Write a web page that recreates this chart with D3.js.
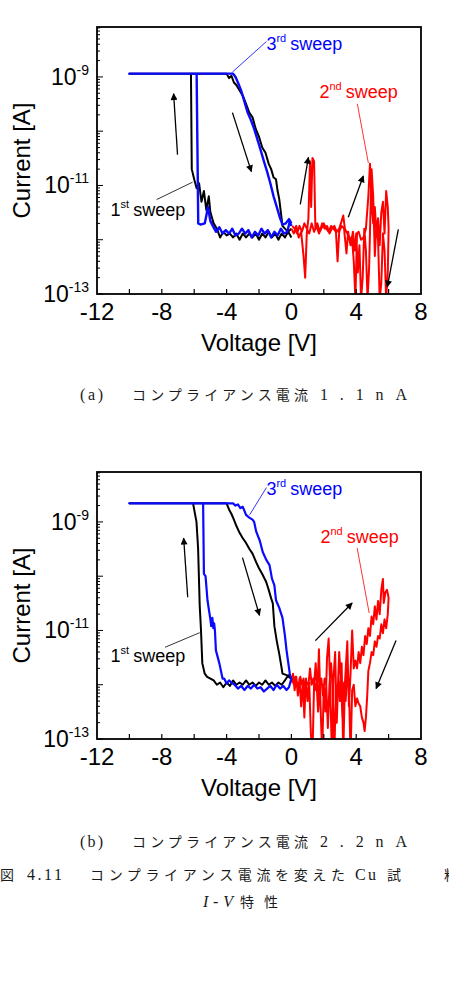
<!DOCTYPE html>
<html>
<head>
<meta charset="utf-8">
<script src="https://cdnjs.cloudflare.com/ajax/libs/d3/7.8.5/d3.min.js"></script>
<style>
  body { margin: 0; background: #fff; }
  svg { display: block; }
</style>
</head>
<body>
<svg id="chart" width="449" height="985"></svg>
<script>
// axis values
var VOLT_LABELS = [-12, -8, -4, 0, 4, 8];
var VOLT_TICKS = [-10, -8, -6, -4, -2, 0, 2, 4, 6];
var CURRENT_LABEL_EXP = [-13, -11, -9];

// (a) compliance 1.1 nA  -- [voltage V, current A]
var sweep1A = [
  [0.0,1.1e-12],[-0.2,1.4e-12],[-0.4,1.1e-12],[-0.6,1.3e-12],[-0.8,1.0e-12],[-1.0,1.3e-12],
  [-1.2,1.1e-12],[-1.4,1.4e-12],[-1.6,1.1e-12],[-1.8,1.3e-12],[-2.0,1.0e-12],[-2.2,1.3e-12],
  [-2.4,1.1e-12],[-2.6,1.3e-12],[-2.8,1.1e-12],[-3.0,1.3e-12],[-3.2,1.0e-12],[-3.4,1.3e-12],
  [-3.6,1.1e-12],[-3.8,1.3e-12],[-4.0,1.2e-12],[-4.2,1.4e-12],[-4.4,1.1e-12],[-4.6,1.6e-12],
  [-4.8,2.0e-12],[-5.0,3.2e-12],[-5.1,6.3e-12],[-5.25,3.5e-12],[-5.4,7.9e-12],[-5.55,5.0e-12],
  [-5.7,1.1e-11],[-5.85,8.9e-12],[-6.0,1.3e-11],[-6.15,2.0e-11],[-6.2,1.15e-9],[-10.0,1.15e-9],
  [-4.0,1.15e-9],[-3.85,9.5e-10],[-3.7,1.05e-9],[-3.55,7.9e-10],[-3.4,7.1e-10],[-3.2,5.6e-10],
  [-3.0,4.5e-10],[-2.8,3.2e-10],[-2.6,2.2e-10],[-2.4,1.8e-10],[-2.2,1.1e-10],[-2.0,7.9e-11],
  [-1.8,5.0e-11],[-1.6,4.0e-11],[-1.4,2.5e-11],[-1.25,2.0e-11],[-1.1,1.4e-11],[-0.95,1.3e-11],
  [-0.85,7.9e-12],[-0.75,5.6e-12],[-0.65,3.2e-12],[-0.55,1.8e-12],[-0.4,1.6e-12],[-0.2,1.4e-12],
  [0.0,1.6e-12]
];
var sweep2A = [
  [0.00,1.6e-12],[0.15,1.3e-12],[0.30,1.8e-12],[0.45,1.1e-12],[0.60,1.4e-12],[0.75,5.0e-13],
  [0.85,2.0e-13],[0.95,1.3e-12],[1.05,2.5e-12],[1.15,2.8e-11],[1.22,4.0e-12],[1.30,3.2e-11],
  [1.40,2.8e-11],[1.48,1.6e-12],[1.60,2.0e-12],[1.75,1.4e-12],[1.90,2.0e-12],[2.05,1.6e-12],
  [2.20,1.8e-12],[2.35,1.3e-12],[2.50,1.6e-12],[2.65,1.8e-12],[2.80,1.4e-12],[2.95,1.6e-12],
  [3.10,2.2e-12],[3.20,2.8e-12],[3.30,1.6e-12],[3.45,1.3e-12],[3.60,1.1e-12],[3.75,1.0e-12],
  [3.85,4.0e-13],[3.95,8.0e-14],[4.05,1.3e-12],[4.15,1.4e-12],[4.30,1.0e-12],[4.45,1.1e-12],
  [4.60,1.6e-12],[4.75,6.3e-12],[4.85,2.5e-11],[4.95,5.0e-12],[5.05,2.0e-12],[5.15,4.0e-12],
  [5.25,1.3e-12],[5.35,2.5e-12],[5.45,7.9e-13],[5.55,3.2e-12],[5.65,5.0e-12],[5.75,1.3e-12],
  [5.85,7.9e-12],[5.95,4.0e-12],[6.00,1.6e-12],
  [5.95,2.5e-13],[5.85,8.0e-14],[5.75,6.3e-13],[5.65,1.3e-12],[5.55,1.6e-13],[5.45,8.0e-14],
  [5.35,1.0e-12],[5.25,2.0e-12],[5.15,5.0e-13],[5.05,6.3e-12],[4.95,2.0e-11],[4.88,3.2e-12],
  [4.80,3.2e-13],[4.70,8.0e-14],[4.60,6.3e-13],[4.50,1.6e-12],[4.40,2.0e-13],[4.30,8.0e-14],
  [4.20,7.9e-13],[4.10,2.5e-13],[4.00,1.3e-12],[3.90,6.3e-13],[3.80,1.4e-12],[3.65,7.9e-13],
  [3.50,1.4e-12],[3.40,5.6e-13],[3.25,1.6e-12],[3.10,1.8e-12],[2.95,1.4e-12],[2.85,4.0e-13],
  [2.75,1.4e-12],[2.60,1.6e-12],[2.45,1.8e-12],[2.30,1.4e-12],[2.15,1.6e-12],[2.00,2.0e-12],
  [1.85,1.6e-12],[1.70,1.3e-12],[1.55,1.8e-12],[1.40,1.4e-12],[1.25,2.0e-12],[1.10,1.3e-12],
  [0.95,1.6e-12],[0.80,2.0e-12],[0.65,1.4e-12],[0.50,1.8e-12],[0.35,1.3e-12],[0.20,1.6e-12],
  [0.05,1.8e-12]
];
var sweep3A = [
  [0.0,1.8e-12],[-0.1,2.2e-12],[-0.25,1.4e-12],[-0.45,1.3e-12],[-0.65,1.6e-12],[-0.85,1.2e-12],
  [-1.05,1.4e-12],[-1.25,1.1e-12],[-1.45,1.5e-12],[-1.65,1.3e-12],[-1.85,1.6e-12],[-2.05,1.2e-12],
  [-2.25,1.4e-12],[-2.45,1.1e-12],[-2.65,1.5e-12],[-2.85,1.3e-12],[-3.05,1.6e-12],[-3.25,1.3e-12],
  [-3.45,1.2e-12],[-3.65,1.6e-12],[-3.85,1.3e-12],[-4.05,1.5e-12],[-4.25,1.3e-12],[-4.45,1.7e-12],
  [-4.65,1.4e-12],[-4.85,1.8e-12],[-5.0,2.2e-12],[-5.15,4.0e-12],[-5.25,2.8e-12],[-5.35,2.0e-12],
  [-5.6,1.9e-12],[-5.75,2.0e-12],[-5.85,1.15e-9],[-10.0,1.15e-9],
  [-3.6,1.15e-9],[-3.45,1.0e-9],[-3.3,7.9e-10],[-3.1,5.6e-10],[-2.9,3.5e-10],[-2.7,2.2e-10],
  [-2.5,1.6e-10],[-2.3,1.1e-10],[-2.1,7.1e-11],[-1.9,4.5e-11],[-1.7,2.8e-11],[-1.5,1.8e-11],
  [-1.3,1.1e-11],[-1.1,6.3e-12],[-0.9,4.0e-12],[-0.7,2.5e-12],[-0.55,1.9e-12],[-0.35,2.0e-12],
  [-0.15,2.4e-12],[0.0,2.0e-12]
];

// (b) compliance 2.2 nA
var sweep1B = [
  [0.0,1.3e-12],[-0.2,1.5e-12],[-0.4,1.2e-12],[-0.6,1.0e-12],[-0.8,1.1e-12],[-1.0,9.5e-13],
  [-1.2,1.1e-12],[-1.4,1.0e-12],[-1.6,1.2e-12],[-1.8,1.0e-12],[-2.0,1.1e-12],[-2.2,9.5e-13],
  [-2.4,1.1e-12],[-2.6,1.0e-12],[-2.8,1.2e-12],[-3.0,1.0e-12],[-3.2,1.1e-12],[-3.4,1.0e-12],
  [-3.6,1.2e-12],[-3.8,9.5e-13],[-4.0,1.1e-12],[-4.2,9.0e-13],[-4.4,1.1e-12],[-4.6,1.0e-12],
  [-4.8,1.2e-12],[-5.0,1.3e-12],[-5.2,1.4e-12],[-5.35,1.6e-12],[-5.5,2.5e-12],[-5.58,1.0e-11],
  [-5.66,2.9e-11],[-5.76,3.3e-10],[-5.86,1.0e-9],[-6.07,2.2e-9],[-10.0,2.2e-9],
  [-4.0,2.2e-9],[-3.85,1.7e-9],[-3.7,1.4e-9],[-3.55,1.1e-9],[-3.4,8.5e-10],[-3.2,6.3e-10],
  [-3.0,5.0e-10],[-2.8,4.1e-10],[-2.6,3.2e-10],[-2.4,2.6e-10],[-2.17,1.8e-10],[-2.0,1.4e-10],
  [-1.8,1.1e-10],[-1.56,7.9e-11],[-1.4,5.6e-11],[-1.25,3.9e-11],[-1.15,3.2e-11],[-1.05,1.2e-11],
  [-0.9,6.3e-12],[-0.75,3.7e-12],[-0.6,2.0e-12],[-0.55,1.6e-12],[-0.3,1.5e-12],[-0.1,1.35e-12],
  [0.0,1.45e-12]
];
var sweep2B = [
  [0.00,1.1e-12],[0.10,1.6e-12],[0.20,7.9e-13],[0.30,1.4e-12],[0.40,6.3e-13],[0.50,1.3e-12],
  [0.60,4.0e-13],[0.70,1.1e-12],[0.80,2.5e-13],[0.90,1.3e-12],[1.00,5.0e-13],[1.10,1.1e-12],
  [1.20,1.3e-13],[1.30,5.0e-14],[1.40,1.0e-12],[1.50,2.5e-12],[1.60,6.3e-13],[1.70,4.5e-12],
  [1.80,4.0e-13],[1.90,5.0e-14],[2.00,1.0e-12],[2.10,3.2e-13],[2.20,3.2e-12],[2.30,7.1e-12],
  [2.40,7.9e-13],[2.50,5.0e-14],[2.60,1.3e-12],[2.70,4.0e-12],[2.80,2.0e-13],[2.90,1.4e-12],
  [3.00,5.0e-13],[3.10,2.5e-12],[3.20,5.0e-14],[3.30,1.0e-12],[3.45,6.3e-12],[3.55,4.0e-13],
  [3.65,1.6e-12],[3.75,1.0e-11],[3.85,2.0e-12],[3.95,2.8e-12],[4.05,2.0e-12],[4.15,4.0e-12],
  [4.25,2.5e-12],[4.35,5.0e-12],[4.45,3.5e-12],[4.55,7.9e-12],[4.65,5.6e-12],[4.75,1.1e-11],
  [4.85,7.9e-12],[4.95,1.8e-11],[5.05,1.3e-11],[5.15,2.8e-11],[5.25,1.6e-11],[5.35,3.5e-11],
  [5.45,2.0e-11],[5.55,5.6e-11],[5.65,8.9e-11],[5.70,3.2e-11],[5.80,5.0e-11],[5.90,5.6e-11],
  [6.00,4.0e-11],
  [5.95,2.0e-11],[5.85,1.1e-11],[5.75,1.6e-11],[5.65,8.9e-12],[5.55,1.3e-11],[5.45,7.1e-12],
  [5.35,7.9e-12],[5.25,5.0e-12],[5.15,6.3e-12],[5.05,3.5e-12],[4.95,4.0e-12],[4.85,2.5e-12],
  [4.75,1.8e-12],[4.68,6.3e-13],[4.60,2.5e-13],[4.52,1.4e-13],[4.45,2.0e-13],[4.35,2.5e-13],
  [4.25,4.0e-13],[4.15,4.5e-13],[4.05,5.6e-13],[3.95,4.0e-13],[3.85,1.0e-12],[3.75,7.9e-13],
  [3.65,5.0e-14],[3.55,1.0e-12],[3.45,2.0e-12],[3.35,5.0e-13],[3.25,1.1e-12],[3.15,2.5e-13],
  [3.05,1.3e-12],[2.95,4.0e-12],[2.85,6.3e-13],[2.75,1.0e-12],[2.65,5.0e-14],[2.55,7.9e-13],
  [2.45,2.5e-12],[2.35,1.0e-12],[2.25,1.6e-13],[2.15,1.0e-12],[2.05,1.3e-12],[1.95,6.3e-13],
  [1.85,1.3e-12],[1.75,1.0e-12],[1.65,3.2e-13],[1.55,1.1e-12],[1.45,7.9e-13],[1.35,1.3e-12],
  [1.25,1.0e-12],[1.15,2.0e-12],[1.05,1.0e-12],[0.95,1.1e-12],[0.85,6.3e-13],[0.75,1.3e-12],
  [0.65,1.0e-12],[0.55,1.4e-12],[0.45,1.0e-12],[0.35,1.1e-12],[0.25,1.4e-12],[0.15,1.0e-12],
  [0.05,1.3e-12]
];
var sweep3B = [
  [0.0,1.3e-12],[-0.15,9.0e-13],[-0.3,8.0e-13],[-0.5,9.5e-13],[-0.7,8.5e-13],[-0.9,1.0e-12],
  [-1.1,8.0e-13],[-1.3,9.5e-13],[-1.5,8.5e-13],[-1.7,7.5e-13],[-1.9,9.0e-13],[-2.1,8.5e-13],
  [-2.3,1.0e-12],[-2.5,8.5e-13],[-2.7,9.5e-13],[-2.9,8.0e-13],[-3.1,9.5e-13],[-3.3,8.5e-13],
  [-3.5,1.0e-12],[-3.7,1.1e-12],[-3.85,1.2e-12],[-4.0,1.05e-12],[-4.15,1.3e-12],[-4.25,1.3e-12],
  [-4.45,2.5e-12],[-4.66,4.3e-12],[-4.72,1.0e-11],[-4.77,1.35e-11],[-4.82,1.1e-11],[-4.88,1.7e-11],
  [-4.95,1.2e-11],[-5.0,1.6e-11],[-5.1,2.5e-11],[-5.18,3.6e-11],[-5.3,1.0e-10],[-5.4,1.1e-10],
  [-5.45,2.2e-9],[-10.0,2.2e-9],
  [-3.6,2.2e-9],[-3.45,2.0e-9],[-3.3,2.1e-9],[-3.15,1.8e-9],[-3.0,1.9e-9],[-2.8,1.35e-9],
  [-2.6,1.2e-9],[-2.4,1.1e-9],[-2.3,1.0e-9],[-2.17,6.6e-10],[-1.95,4.5e-10],[-1.77,2.8e-10],
  [-1.55,2.0e-10],[-1.35,1.6e-10],[-1.2,9.0e-11],[-1.05,6.8e-11],[-0.95,3.6e-11],[-0.75,2.6e-11],
  [-0.55,1.7e-11],[-0.4,8.0e-12],[-0.3,4.3e-12],[-0.1,1.6e-12],[0.0,1.2e-12]
];

// sweep direction arrows, [from, to] in [V, A]
var arrowsA = [
  [[-7.03,3.7e-11],[-7.27,4.9e-10]],
  [[-3.64,2.2e-10],[-2.47,1.8e-11]],
  [[0.55,4.5e-12],[1.05,3.3e-11]],
  [[3.51,2.6e-12],[4.44,1.5e-11]],
  [[6.6,1.55e-12],[5.92,1.35e-13]]
];
var arrowsB = [
  [[-6.4,4.1e-11],[-6.65,5.0e-10]],
  [[-3.02,2.2e-10],[-1.97,1.9e-11]],
  [[1.48,6.5e-12],[3.75,3.2e-11]],
  [[6.46,6.5e-12],[5.23,8.5e-13]]
];

// sweep labels: text anchor and leader line, in [V, A]
var notesA = [
  { n: "3", sup: "rd", color: "#0000ff", at: [-1.54,3.2e-9], from: [-1.54,4.5e-9], to: [-3.64,1.23e-9] },
  { n: "2", sup: "nd", color: "#ff0000", at: [1.73,4.1e-10], from: [4.07,3.2e-10], to: [4.75,2.6e-11] },
  { n: "1", sup: "st", color: "#000000", at: [-11.16,2.7e-12], from: [-8.32,5.5e-12], to: [-6.1,1.15e-11] }
];
var notesB = [
  { n: "3", sup: "rd", color: "#0000ff", at: [-1.54,3.2e-9], from: [-1.54,4.3e-9], to: [-2.58,1.35e-9] },
  { n: "2", sup: "nd", color: "#ff0000", at: [1.79,4.1e-10], from: [4.06,3.3e-10], to: [4.8,2.1e-11] },
  { n: "1", sup: "st", color: "#000000", at: [-11.16,2.6e-12], from: [-7.8,4.9e-12], to: [-5.66,9.1e-12] }
];

var svg = d3.select("#chart");
var LEFT = 97, W = 324, H = 267;
var SANS = "'Liberation Sans', Arial, sans-serif";
var SERIF = "'Liberation Serif', 'Noto Sans CJK JP', serif";

var xScale = d3.scaleLinear().domain([-12, 8]).range([0, W]);
var yScale = d3.scaleLog().domain([1e-13, Math.pow(10, -8.08)]).range([H, 0]);

var defs = svg.append("defs");
defs.append("marker")
  .attr("id", "arr")
  .attr("viewBox", "0 0 10 10")
  .attr("refX", 9).attr("refY", 5)
  .attr("markerUnits", "userSpaceOnUse")
  .attr("markerWidth", 9).attr("markerHeight", 7)
  .attr("orient", "auto")
  .append("path").attr("d", "M0,0L10,5L0,10z").attr("fill", "#000");

function drawPanel(id, top, sweeps, arrows, notes) {
  var g = svg.append("g").attr("transform", "translate(" + LEFT + "," + top + ")");

  defs.append("clipPath").attr("id", "clip" + id)
    .append("rect").attr("width", W).attr("height", H);

  var line = d3.line()
    .x(function (d) { return xScale(d[0]); })
    .y(function (d) { return yScale(d[1]); });

  var plot = g.append("g").attr("clip-path", "url(#clip" + id + ")");
  sweeps.forEach(function (s) {
    plot.append("path")
      .datum(s.data)
      .attr("d", line)
      .style("fill", "none")
      .style("stroke", s.color)
      .style("stroke-width", s.width)
      .style("stroke-linejoin", "round");
  });

  // frame
  g.append("rect")
    .attr("width", W).attr("height", H)
    .style("fill", "none").style("stroke", "#000").style("stroke-width", 1.8);

  // x ticks (inward)
  g.selectAll(".xt").data(VOLT_TICKS).enter().append("line")
    .attr("x1", function (d) { return xScale(d); })
    .attr("x2", function (d) { return xScale(d); })
    .attr("y1", H).attr("y2", H - 5)
    .style("stroke", "#000").style("stroke-width", 1.2);

  g.selectAll(".xl").data(VOLT_LABELS).enter().append("text")
    .attr("x", function (d) { return xScale(d); })
    .attr("y", H + 26)
    .attr("text-anchor", "middle")
    .style("font-family", SANS).style("font-size", "24px")
    .text(function (d) { return d; });

  // y ticks (log, inward)
  var yt = yScale.ticks();
  g.selectAll(".yt").data(yt).enter().append("line")
    .attr("x1", 0)
    .attr("x2", function (d) {
      var e = Math.log10(d);
      return Math.abs(e - Math.round(e)) < 1e-6 ? 6 : 3;
    })
    .attr("y1", function (d) { return yScale(d); })
    .attr("y2", function (d) { return yScale(d); })
    .style("stroke", "#000").style("stroke-width", 1);

  var yl = g.selectAll(".yl").data(CURRENT_LABEL_EXP).enter().append("text")
    .attr("x", -8)
    .attr("y", function (d) { return yScale(Math.pow(10, d)) + 8; })
    .attr("text-anchor", "end")
    .style("font-family", SANS).style("font-size", "23px");
  yl.append("tspan").text("10");
  yl.append("tspan").attr("dy", -10).style("font-size", "14px")
    .text(function (d) { return d; });

  // axis titles
  g.append("text")
    .attr("x", W / 2).attr("y", H + 57)
    .attr("text-anchor", "middle")
    .style("font-family", SANS).style("font-size", "24px")
    .text("Voltage [V]");
  g.append("text")
    .attr("transform", "translate(" + (30 - LEFT) + "," + (H / 2) + ")rotate(-90)")
    .attr("text-anchor", "middle")
    .style("font-family", SANS).style("font-size", "24px")
    .text("Current [A]");

  // arrows
  g.selectAll(".arw").data(arrows).enter().append("line")
    .attr("x1", function (d) { return xScale(d[0][0]); })
    .attr("y1", function (d) { return yScale(d[0][1]); })
    .attr("x2", function (d) { return xScale(d[1][0]); })
    .attr("y2", function (d) { return yScale(d[1][1]); })
    .style("stroke", "#000").style("stroke-width", 1.3)
    .attr("marker-end", "url(#arr)");

  // sweep labels
  notes.forEach(function (n) {
    g.append("line")
      .attr("x1", xScale(n.from[0])).attr("y1", yScale(n.from[1]))
      .attr("x2", xScale(n.to[0])).attr("y2", yScale(n.to[1]))
      .style("stroke", n.color).style("stroke-width", 0.8);
    var t = g.append("text")
      .attr("x", xScale(n.at[0])).attr("y", yScale(n.at[1]))
      .style("font-family", SANS).style("font-size", "18px")
      .style("fill", n.color);
    t.append("tspan").text(n.n);
    t.append("tspan").attr("dy", -8).style("font-size", "11px").text(n.sup);
    t.append("tspan").attr("dy", 8).attr("dx", 4).text("sweep");
  });
}

drawPanel("a", 27, [
  { data: sweep1A, color: "#000000", width: 2 },
  { data: sweep2A, color: "#ff0000", width: 2 },
  { data: sweep3A, color: "#0a0aff", width: 2.4 }
], arrowsA, notesA);

drawPanel("b", 472, [
  { data: sweep1B, color: "#000000", width: 2 },
  { data: sweep2B, color: "#ff0000", width: 2 },
  { data: sweep3B, color: "#0a0aff", width: 2.2 }
], arrowsB, notesB);

// captions: [text, x, width, font size]
var captions = [
  { y: 400, parts: [["(a)", 80, 23, 16], ["コンプライアンス電流", 132, 176, 14], ["1.1nA", 320, 87, 16]] },
  { y: 847, parts: [["(b)", 80, 23, 16], ["コンプライアンス電流", 132, 176, 14], ["2.2nA", 320, 87, 16]] },
  { y: 880, parts: [["図", 0, 17, 14], ["4.11", 27, 35, 16], ["コンプライアンス電流を変えた", 90, 255, 14],
                    ["Cu", 355, 21, 16], ["試", 387, 16, 14], ["料の", 444, 36, 14]] },
  { y: 907, parts: [["特性", 240, 38, 14]] }
];
captions.forEach(function (c) {
  c.parts.forEach(function (p) {
    svg.append("text")
      .attr("x", p[1]).attr("y", c.y)
      .attr("textLength", p[2]).attr("lengthAdjust", "spacing")
      .style("font-family", SERIF).style("font-size", p[3] + "px")
      .style("fill", "#1a1a1a")
      .text(p[0]);
  });
});
svg.append("text")
  .attr("x", 203).attr("y", 907)
  .attr("textLength", 30).attr("lengthAdjust", "spacing")
  .style("font-family", SERIF).style("font-size", "16px")
  .style("font-style", "italic").style("fill", "#1a1a1a")
  .text("I-V");
</script>
</body>
</html>
